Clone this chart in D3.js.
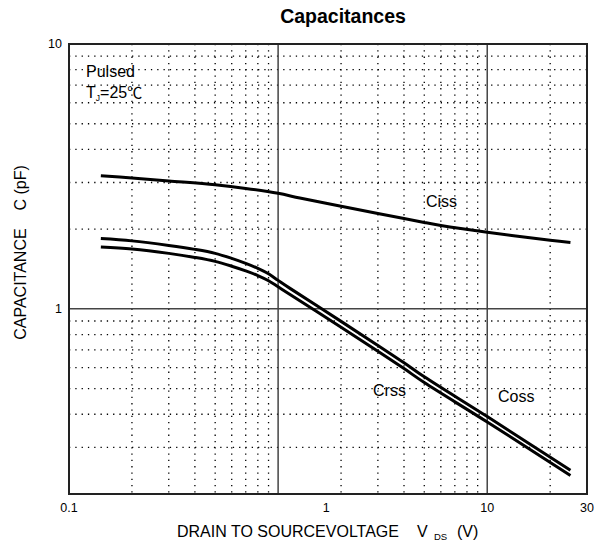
<!DOCTYPE html>
<html>
<head>
<meta charset="utf-8">
<script src="https://cdn.jsdelivr.net/npm/d3@7"></script>
<style>
  body { margin: 0; background: #fff; }
  text { font-family: "Liberation Sans", Arial, sans-serif; fill: #000; }
</style>
</head>
<body>
<div id="chart"></div>
<script>
// Vds (V)
const vds = [0.142, 0.2, 0.3, 0.4, 0.5, 0.6, 0.7, 0.8, 0.9, 1.0, 1.14, 2, 3, 4, 5, 10, 25];
// capacitance curves (pF)
const coss = [1.842, 1.806, 1.736, 1.677, 1.620, 1.551, 1.485, 1.422, 1.356, 1.281, 1.195, 0.897, 0.728, 0.626, 0.554, 0.392, 0.246];
const crss = [1.711, 1.682, 1.620, 1.564, 1.511, 1.449, 1.391, 1.336, 1.277, 1.211, 1.132, 0.853, 0.692, 0.595, 0.527, 0.374, 0.235];
const cissV = [0.142, 0.2, 0.3, 0.5, 0.7, 1.0, 1.27, 2, 3, 4, 5, 6, 10, 20, 25];
const ciss = [3.18, 3.12, 3.04, 2.94, 2.85, 2.73, 2.62, 2.44, 2.29, 2.195, 2.12, 2.066, 1.947, 1.814, 1.779];

const xTickLabels = ["0.1", "1", "10", "30"];
const xTickAt = [0.1, 1.7, 10, 30];   // the original sheet prints "1" off its gridline
const yTickLabels = ["10", "1"];
const yTickAt = [10, 1];
const xMinor = [0.2, 0.3, 0.4, 0.5, 0.6, 0.7, 0.8, 0.9, 2, 3, 4, 5, 6, 7, 8, 9, 20];
const yMinor = [0.3, 0.4, 0.5, 0.6, 0.7, 0.8, 0.9, 2, 3, 4, 5, 6, 7, 8, 9];
const xMajor = [1, 10];
const yMajor = [1];

const width = 595, height = 548;
const margin = { top: 44, right: 8, bottom: 54, left: 69 };

const svg = d3.select("#chart").append("svg")
    .attr("width", width).attr("height", height);

const x = d3.scaleLog().domain([0.1, 30]).range([margin.left, width - margin.right]);
const y = d3.scaleLog().domain([0.2, 10]).range([height - margin.bottom, margin.top]);

// dotted minor grid
svg.append("g").selectAll("line").data(xMinor).join("line")
    .attr("x1", d => x(d)).attr("x2", d => x(d))
    .attr("y1", y(10)).attr("y2", y(0.2))
    .attr("stroke", "#000").attr("stroke-width", 1.3)
    .attr("stroke-dasharray", "1.3,5");
svg.append("g").selectAll("line").data(yMinor).join("line")
    .attr("y1", d => y(d)).attr("y2", d => y(d))
    .attr("x1", x(0.1)).attr("x2", x(30))
    .attr("stroke", "#000").attr("stroke-width", 1.3)
    .attr("stroke-dasharray", "1.3,5");

// solid decade lines
svg.append("g").selectAll("line").data(xMajor).join("line")
    .attr("x1", d => x(d)).attr("x2", d => x(d))
    .attr("y1", y(10)).attr("y2", y(0.2))
    .attr("stroke", "#444").attr("stroke-width", 1.5);
svg.append("g").selectAll("line").data(yMajor).join("line")
    .attr("y1", d => y(d)).attr("y2", d => y(d))
    .attr("x1", x(0.1)).attr("x2", x(30))
    .attr("stroke", "#444").attr("stroke-width", 1.5);

// frame
svg.append("rect")
    .attr("x", x(0.1)).attr("y", y(10))
    .attr("width", x(30) - x(0.1)).attr("height", y(0.2) - y(10))
    .attr("fill", "none").attr("stroke", "#222").attr("stroke-width", 2);

// curves
const line = d3.line().curve(d3.curveCatmullRom.alpha(0.5));
function drawCurve(xs, ys) {
    svg.append("path")
        .attr("d", line(xs.map((v, i) => [x(v), y(ys[i])])))
        .attr("fill", "none").attr("stroke", "#000").attr("stroke-width", 3);
}
drawCurve(cissV, ciss);
drawCurve(vds, coss);
drawCurve(vds, crss);

// tick labels
svg.append("g").selectAll("text").data(xTickLabels).join("text")
    .attr("x", (d, i) => x(xTickAt[i]))
    .attr("y", y(0.2) + 18)
    .attr("text-anchor", "middle").attr("font-size", 12.5)
    .text(d => d);
svg.append("g").selectAll("text").data(yTickLabels).join("text")
    .attr("x", x(0.1) - 7)
    .attr("y", (d, i) => y(yTickAt[i]) + 4)
    .attr("text-anchor", "end").attr("font-size", 12.5)
    .text(d => d);

// title
svg.append("text")
    .attr("x", 343).attr("y", 23)
    .attr("text-anchor", "middle").attr("font-size", 19.5).attr("font-weight", "bold")
    .text("Capacitances");

// x axis title
svg.append("text").attr("x", 177).attr("y", 537).attr("font-size", 16)
    .text("DRAIN TO SOURCEVOLTAGE");
svg.append("text").attr("x", 417).attr("y", 537).attr("font-size", 16).text("V");
svg.append("text").attr("x", 434).attr("y", 540).attr("font-size", 9.5).text("DS");
svg.append("text").attr("x", 457).attr("y", 537).attr("font-size", 16).text("(V)");

// y axis title
svg.append("text")
    .attr("transform", "translate(25.5,252.5) rotate(-90)")
    .attr("text-anchor", "middle").attr("font-size", 16)
    .attr("xml:space", "preserve")
    .text("CAPACITANCE    C (pF)");

// annotations
svg.append("text").attr("x", 86).attr("y", 77).attr("font-size", 16).text("Pulsed");
const tj = svg.append("text").attr("x", 86).attr("y", 98).attr("font-size", 16);
tj.append("tspan").text("T");
tj.append("tspan").attr("font-size", 8.5).attr("dy", 3).text("J");
tj.append("tspan").attr("dy", -3).text("=25");
tj.append("tspan").style("font-family", "'Noto Sans CJK SC'").attr("font-size", 15).text("℃");

svg.append("text").attr("x", 426).attr("y", 206.5).attr("font-size", 16).text("Ciss");
svg.append("text").attr("x", 373).attr("y", 396).attr("font-size", 16).text("Crss");
svg.append("text").attr("x", 498).attr("y", 402).attr("font-size", 16).text("Coss");
</script>
</body>
</html>
